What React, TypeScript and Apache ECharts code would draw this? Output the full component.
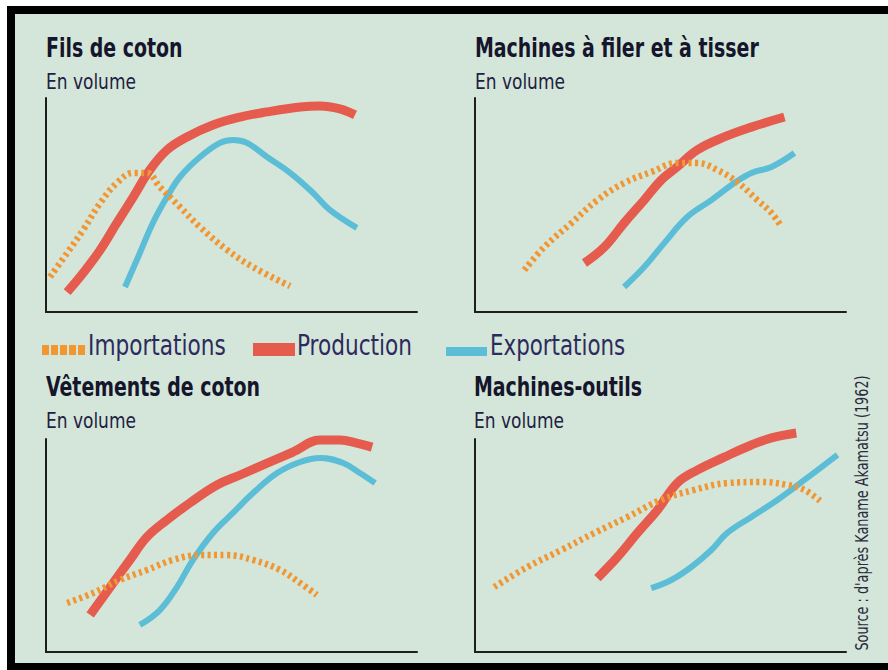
import React, { useEffect, useRef } from "react";
import * as echarts from "echarts";

// ---- Data (x: time in 0..100, y: volume 0..100) ----
const filsImport: number[][] = [[1.1,16.4],[5.7,27.6],[10.0,38.3],[14.6,50.9],[19.1,60.3],[23.5,65.0],[27.2,65.0],[30.7,58.4],[36.1,49.1],[41.5,39.7],[48.8,29.0],[55.8,21.0],[65.8,12.1]];
const filsProd: number[][] = [[5.7,9.3],[10.0,18.2],[14.6,29.0],[19.1,41.6],[23.5,53.7],[28.0,66.4],[32.6,75.7],[38.0,81.8],[45.0,87.4],[52.3,91.1],[59.6,93.5],[68.5,95.8],[73.9,96.3],[79.2,94.9],[83.3,92.1]];
const filsExport: number[][] = [[21.3,11.7],[25.3,27.6],[28.8,41.6],[32.6,53.7],[36.1,63.1],[41.5,72.4],[46.9,79.0],[50.4,80.4],[54.2,79.0],[59.6,72.4],[65.8,65.0],[72.0,55.6],[76.5,47.7],[83.8,39.3]];

const machImport: number[][] = [[13.3,19.6],[18.7,30.4],[26.0,41.6],[33.0,52.3],[40.2,60.3],[47.5,65.4],[54.5,69.6],[59.9,69.6],[65.3,66.4],[70.7,60.7],[76.1,52.3],[79.9,46.3],[82.6,39.7]];
const machProd: number[][] = [[29.5,22.9],[34.9,30.4],[40.2,41.6],[45.6,52.3],[50.2,61.7],[54.5,67.8],[59.9,75.7],[67.2,81.8],[74.5,86.4],[83.4,91.1]];
const machExport: number[][] = [[40.2,11.7],[45.6,21.0],[51.0,32.2],[57.2,44.4],[63.7,52.3],[69.9,60.3],[74.5,65.0],[79.9,67.8],[86.1,74.3]];

const vetImport: number[][] = [[5.7,23.0],[12.7,27.7],[19.9,33.8],[27.2,38.5],[34.2,43.2],[41.5,45.5],[48.8,45.5],[55.8,43.2],[63.1,38.5],[68.5,32.4],[73.0,26.8]];
const vetProd: number[][] = [[11.9,17.4],[17.3,30.5],[22.6,43.2],[27.2,54.0],[32.6,62.0],[38.8,70.0],[46.1,78.4],[52.3,83.1],[59.6,88.7],[66.6,93.9],[73.9,99.5],[79.2,99.5],[83.8,98.1],[87.9,96.2]];
const vetExport: number[][] = [[25.3,12.7],[30.7,19.7],[35.3,30.5],[39.6,43.2],[45.0,55.9],[50.4,65.3],[55.8,74.6],[62.3,84.0],[68.5,89.2],[73.9,91.1],[80.1,88.7],[84.6,84.0],[88.7,79.3]];

const outilImport: number[][] = [[5.2,30.5],[14.1,39.9],[23.3,47.9],[32.2,55.9],[41.1,63.4],[50.2,71.4],[59.1,76.1],[68.0,79.3],[77.2,79.8],[84.2,78.4],[88.8,76.1],[93.4,70.4]];
const outilProd: number[][] = [[33.0,34.7],[38.4,44.6],[43.8,55.9],[49.2,66.7],[54.5,79.3],[59.9,85.4],[67.2,91.5],[74.5,97.2],[79.9,100.5],[86.6,102.8]];
const outilExport: number[][] = [[47.5,30.0],[52.9,33.8],[58.3,39.9],[63.7,47.9],[68.0,55.9],[74.5,63.4],[81.5,71.4],[88.8,80.8],[97.7,92.5]];

const panelTitles = ["Fils de coton", "Machines à filer et à tisser", "Vêtements de coton", "Machines-outils"];
const panelSubtitle = "En volume";
const seriesNames = ["Importations", "Production", "Exportations"];
const panelData = [
  [filsImport, filsProd, filsExport],
  [machImport, machProd, machExport],
  [vetImport, vetProd, vetExport],
  [outilImport, outilProd, outilExport],
];
const sourceText = "Source : d'après Kaname Akamatsu (1962)";

const COL_IMPORT = "#f29632";
const COL_PROD = "#e55b4d";
const COL_EXPORT = "#5bbdd6";
const BG = "#d4e5da";
const FONT = "'DejaVu Sans Condensed', 'Liberation Sans Narrow', sans-serif";

const grids = [
  { left: 46, top: 98, width: 371, height: 214 },
  { left: 475, top: 98, width: 371, height: 214 },
  { left: 46, top: 439, width: 371, height: 213 },
  { left: 475, top: 439, width: 371, height: 213 },
];
const titlePos = [
  { x: 46, y: 48 },
  { x: 475, y: 48 },
  { x: 46, y: 387 },
  { x: 474, y: 387 },
];

export default function App() {
  const ref = useRef<HTMLDivElement>(null);
  useEffect(() => {
    if (!ref.current) return;
    const chart = echarts.init(ref.current, undefined, { renderer: "svg" });

    const axisCommon = {
      type: "value" as const,
      min: 0,
      max: 100,
      axisLine: { show: true, onZero: false, lineStyle: { color: "#1e1e1e", width: 2 } },
      axisTick: { show: false },
      axisLabel: { show: false },
      splitLine: { show: false },
    };

    const series: any[] = [];
    panelData.forEach((sets, gi) => {
      const [imp, prod, exp] = sets;
      series.push({
        name: seriesNames[1], type: "line", xAxisIndex: gi, yAxisIndex: gi, data: prod,
        smooth: 0.4, showSymbol: false, clip: false, z: 2,
        lineStyle: { color: COL_PROD, width: 9, cap: "butt" },
      });
      series.push({
        name: seriesNames[2], type: "line", xAxisIndex: gi, yAxisIndex: gi, data: exp,
        smooth: 0.4, showSymbol: false, clip: false, z: 3,
        lineStyle: { color: COL_EXPORT, width: 6, cap: "butt" },
      });
      series.push({
        name: seriesNames[0], type: "line", xAxisIndex: gi, yAxisIndex: gi, data: imp,
        smooth: 0.4, showSymbol: false, clip: false, z: 4,
        lineStyle: { color: COL_IMPORT, width: 6.5, type: [3, 3.5], cap: "butt" },
      });
    });

    const legendY = 345;
    const legendFont = `29px ${FONT}`;
    const legendColor = "#2d2a5c";
    const graphic: any[] = [
      { type: "rect", z: -100, silent: true, shape: { x: 7, y: 6, width: 881, height: 664 }, style: { fill: "#000" } },
      { type: "rect", z: -99, silent: true, shape: { x: 15, y: 14, width: 873, height: 649 }, style: { fill: BG } },
      // legend
      { type: "line", shape: { x1: 42, y1: 350, x2: 86, y2: 350 }, style: { stroke: COL_IMPORT, lineWidth: 10, lineDash: [7, 2] } },
      { type: "text", x: 88, y: legendY, scaleX: 0.83, style: { text: seriesNames[0], font: legendFont, fill: legendColor, verticalAlign: "middle" } },
      { type: "rect", shape: { x: 253, y: 343, width: 42, height: 13 }, style: { fill: COL_PROD } },
      { type: "text", x: 297, y: legendY, scaleX: 0.83, style: { text: seriesNames[1], font: legendFont, fill: legendColor, verticalAlign: "middle" } },
      { type: "rect", shape: { x: 446, y: 347, width: 41, height: 9 }, style: { fill: COL_EXPORT } },
      { type: "text", x: 490, y: legendY, scaleX: 0.82, style: { text: seriesNames[2], font: legendFont, fill: legendColor, verticalAlign: "middle" } },
      // source
      { type: "text", x: 862, y: 513, rotation: Math.PI / 2, scaleX: 0.84, style: { text: sourceText, font: `17px ${FONT}`, fill: "#2a2a3a", align: "center", verticalAlign: "middle" } },
    ];
    panelTitles.forEach((t, i) => {
      graphic.push({ type: "text", x: titlePos[i].x, y: titlePos[i].y, scaleX: 0.81, style: { text: t, font: `bold 26px ${FONT}`, fill: "#15152b", verticalAlign: "middle" } });
      graphic.push({ type: "text", x: titlePos[i].x, y: titlePos[i].y + 33, scaleX: 0.86, style: { text: panelSubtitle, font: `22px ${FONT}`, fill: "#1e2140", verticalAlign: "middle" } });
    });

    chart.setOption({
      animation: false,
      backgroundColor: "#ffffff",
      grid: grids,
      xAxis: grids.map((_, i) => ({ ...axisCommon, gridIndex: i, position: "bottom" })),
      yAxis: grids.map((_, i) => ({ ...axisCommon, gridIndex: i, position: "left" })),
      series,
      graphic,
    });
    return () => chart.dispose();
  }, []);
  return <div ref={ref} style={{ position: "fixed", left: 0, top: 0, width: 888, height: 670 }} />;
}
